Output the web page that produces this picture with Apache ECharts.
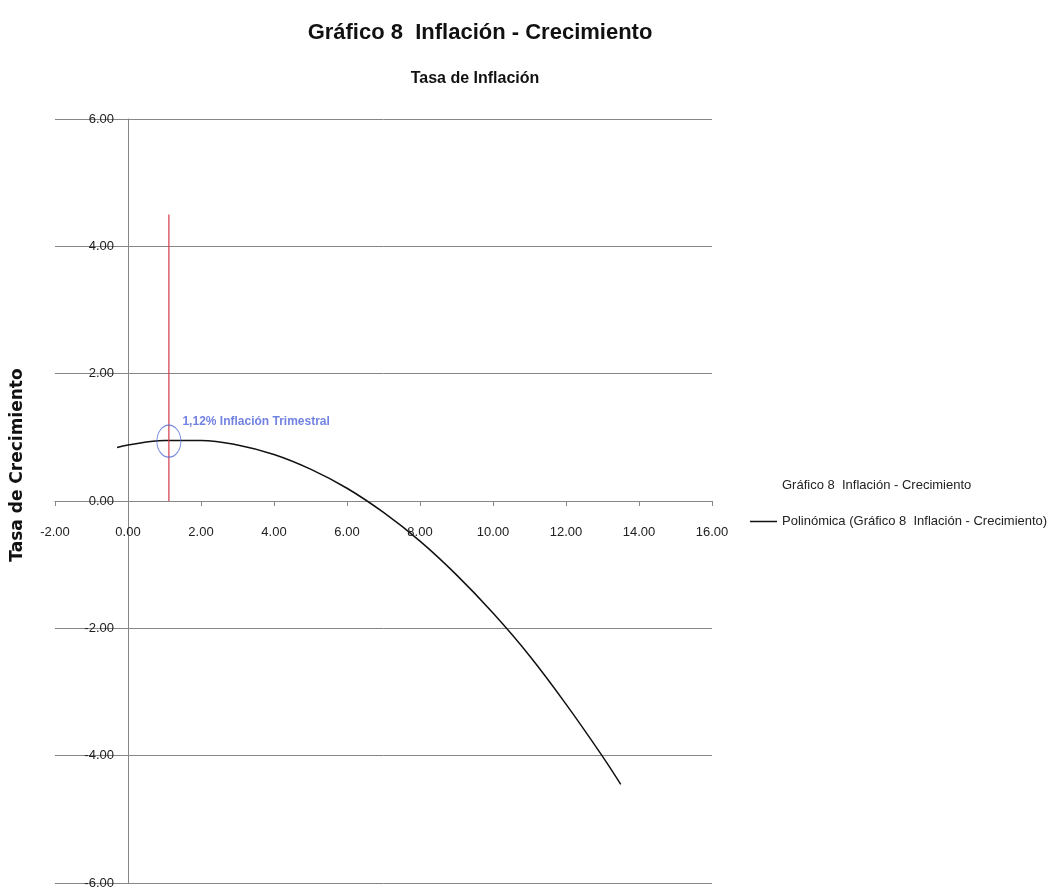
<!DOCTYPE html>
<html>
<head>
<meta charset="utf-8">
<script src="https://cdn.jsdelivr.net/npm/echarts@6/dist/echarts.min.js"></script>
<style>
  html, body { margin: 0; padding: 0; background: #fff; }
  #chart { width: 1051px; height: 889px; }
</style>
</head>
<body>
<div id="chart"></div>
<script>
// datos
const curveX = [-0.3, 0, 1, 2, 3, 4, 5, 6, 7, 8, 9, 10, 11, 12, 13, 13.5];
const curveY = [0.84, 0.88, 0.95, 0.95, 0.88, 0.73, 0.50, 0.20, -0.18, -0.63, -1.16, -1.76, -2.43, -3.19, -4.01, -4.45];
const inflX = [1.12, 1.12];        // linea roja vertical
const inflY = [0, 4.5];
const pointX = [1.12];             // punto marcado
const pointY = [0.94];
const serieName = 'Gráfico 8  Inflación - Crecimiento';
const polyName = 'Polinómica (Gráfico 8  Inflación - Crecimiento)';
const noteText = '1,12% Inflación Trimestral';

const narrow = '"Liberation Sans Narrow", "Arial Narrow", sans-serif';

const zip = (xs, ys) => xs.map((x, i) => [x, ys[i]]);

// ejes cruzando en el cero: el grid va de -2 a 16 y de -6 a 6
const gridH = 889 - 119 - 6;
const gridW = 1051 - 55 - 339;

var myChart = echarts.init(document.getElementById('chart'));

let option = {
    backgroundColor: '#fff',
    animation: false,
    title: [{
        text: 'Gráfico 8  Inflación - Crecimiento',
        left: 475,
        textAlign: 'center',
        top: 17,
        textStyle: { fontFamily: narrow, fontSize: 22, fontWeight: 'bold', color: '#111' }
    }, {
        text: 'Tasa de Inflación',
        left: 470,
        textAlign: 'center',
        top: 66,
        textStyle: { fontFamily: narrow, fontSize: 16, fontWeight: 'bold', color: '#111' }
    }],
    legend: {
        orient: 'vertical',
        left: 745,
        top: 474,
        itemWidth: 27,
        itemHeight: 1.5,
        itemGap: 23,
        textStyle: { fontFamily: narrow, fontSize: 13, color: '#222' },
        data: [
            { name: serieName, icon: 'none' },
            { name: polyName, icon: 'rect', itemStyle: { color: '#111' } }
        ]
    },
    graphic: [{
        type: 'text',
        x: 18,
        y: 465,
        rotation: Math.PI / 2,
        style: {
            text: 'Tasa de Crecimiento',
            font: 'bold 17px "DejaVu Sans", sans-serif',
            fill: '#111',
            textAlign: 'center',
            textVerticalAlign: 'middle'
        }
    }],
    grid: { left: 55, right: 339, top: 119, bottom: 6, outerBoundsMode: 'none' },
    xAxis: {
        type: 'value',
        min: -2, max: 16, interval: 2,
        offset: -gridH / 2,
        axisLine: { onZero: false, lineStyle: { color: '#868686' } },
        axisTick: { show: true, length: 5, lineStyle: { color: '#868686' } },
        axisLabel: {
            margin: 25,
            fontFamily: narrow, fontSize: 13, color: '#222',
            formatter: v => v.toFixed(2)
        },
        splitLine: { show: false }
    },
    yAxis: {
        type: 'value',
        min: -6, max: 6, interval: 2,
        offset: -gridW * 2 / 18,
        axisLine: { onZero: false, lineStyle: { color: '#868686' } },
        axisTick: { show: false },
        axisLabel: {
            margin: 14,
            fontFamily: narrow, fontSize: 13, color: '#222',
            formatter: v => v.toFixed(2)
        },
        splitLine: { show: true, lineStyle: { color: '#868686', width: 1 } }
    },
    series: [{
        name: polyName,
        type: 'line',
        data: zip(curveX, curveY),
        smooth: 0.4,
        symbol: 'none',
        lineStyle: { color: '#111', width: 1.5 },
        itemStyle: { color: '#111' }
    }, {
        name: 'inflacion',
        type: 'line',
        data: zip(inflX, inflY),
        symbol: 'none',
        lineStyle: { color: '#d6384a', width: 1.2 }
    }, {
        name: serieName,
        type: 'scatter',
        data: zip(pointX, pointY),
        symbol: 'path://M0,10 A10,10 0 1,1 20,10 A10,10 0 1,1 0,10 Z',
        symbolSize: [24, 32],
        itemStyle: { color: 'rgba(0,0,0,0)', borderColor: '#4f69d6', borderWidth: 1 },
        label: {
            show: true,
            formatter: noteText,
            position: [26, -9],
            fontFamily: narrow, fontSize: 12, fontWeight: 'bold', color: '#4f63d8'
        },
        z: 5
    }]
};

myChart.setOption(option);
</script>
</body>
</html>
